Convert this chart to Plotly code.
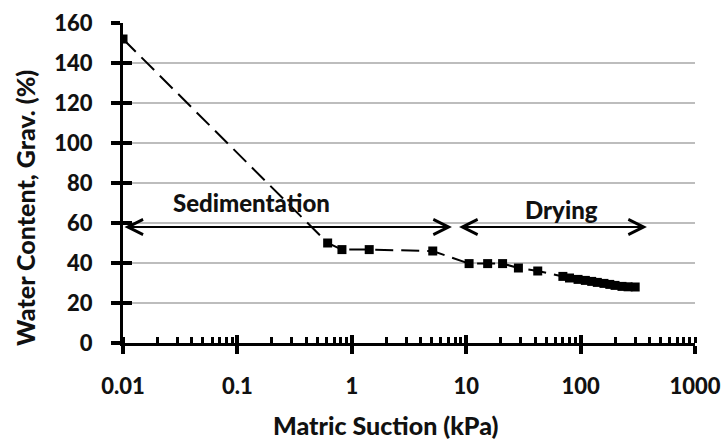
import math
import plotly.graph_objects as go

# Soil-water characteristic: matric suction (kPa) vs gravimetric water content (%)
suction_kpa = [0.01, 0.615, 0.82, 1.42, 5.1, 10.6, 15.4, 20.8, 28.6, 42.2,
               70, 80, 95, 110, 125, 140, 160, 180, 200, 230, 260, 300]
water_content = [152, 50, 46.7, 46.7, 46, 39.7, 39.7, 39.7, 37.5, 36,
                 33.3, 32.5, 31.8, 31.3, 30.8, 30.3, 29.8, 29.3, 28.8, 28.3, 28.1, 28.0]

x_tick_vals = [0.01, 0.1, 1, 10, 100, 1000]
x_tick_text = ["0.01", "0.1", "1", "10", "100", "1000"]
y_tick_vals = [0, 20, 40, 60, 80, 100, 120, 140, 160]
y_tick_text = ["0", "20", "40", "60", "80", "100", "120", "140", "160"]

x_title = "Matric Suction (kPa)"
y_title = "Water Content, Grav. (%)"

# Stage ranges (kPa) and the water-content level of their arrows
sed_range = [0.01, 7.5]
dry_range = [8.4, 380]
stage_level = 58
sed_label = ("Sedimentation", 0.133, 70.5)
dry_label = ("Drying", 67.5, 66.7)

FONT = "Lato"
INK = "#111111"
HEAVY = 900

fig = go.Figure()
fig.add_trace(go.Scatter(
    x=suction_kpa, y=water_content, mode="lines+markers",
    line=dict(color="black", width=2, dash="18px,8px"),
    marker=dict(symbol="square", size=9, color="black"),
    showlegend=False,
))
# empty trace so the overlay axes (inner halves of the crossing ticks) render
fig.add_trace(go.Scatter(x=[], y=[], xaxis="x2", yaxis="y2", showlegend=False,
                         hoverinfo="skip"))

lg = math.log10
x_range = [lg(x_tick_vals[0]), lg(x_tick_vals[-1])]
y_range = [0, 160]

# stage arrows (double headed)
for lo, hi in (sed_range, dry_range):
    fig.add_annotation(
        x=lg(hi), y=stage_level, ax=lg(lo), ay=stage_level,
        xref="x", yref="y", axref="x", ayref="y",
        text="", showarrow=True, arrowside="end+start",
        arrowhead=5, startarrowhead=5, arrowsize=1.5, startarrowsize=1.5,
        arrowwidth=2, arrowcolor="black", standoff=0, startstandoff=0,
    )
for txt, xv, yv in (sed_label, dry_label):
    fig.add_annotation(
        x=lg(xv), y=yv, xref="x", yref="y", text=txt,
        showarrow=False, font=dict(family=FONT, size=24, color=INK, weight=HEAVY),
    )

tick_font = dict(family=FONT, size=22, color=INK, weight=HEAVY)
title_font = dict(family=FONT, size=25, color=INK, weight=HEAVY)

# axis titles, placed relative to the chart area
fig.add_annotation(text=x_title, xref="paper", yref="paper", x=0.46, y=-0.257,
                   xanchor="center", yanchor="middle", showarrow=False,
                   font=title_font)
fig.add_annotation(text=y_title, xref="paper", yref="paper", x=-0.171, y=0.4225,
                   xanchor="center", yanchor="middle", showarrow=False,
                   textangle=-90, font=title_font)

fig.update_layout(
    width=727, height=439,
    margin=dict(l=123, r=32, t=23, b=96, autoexpand=False),
    paper_bgcolor="white", plot_bgcolor="white",
    xaxis=dict(
        type="log", range=x_range, tickvals=x_tick_vals, ticktext=x_tick_text,
        ticks="outside", ticklen=8, tickwidth=4, tickcolor="black",
        showline=True, linecolor="black", linewidth=3,
        showgrid=False, zeroline=False, tickfont=tick_font,
        ticklabelstandoff=14, automargin=False,
        minor=dict(ticks="inside", ticklen=6, tickwidth=3, tickcolor="black",
                   dtick="D1", showgrid=False),
    ),
    xaxis2=dict(
        type="log", range=x_range, overlaying="x", anchor="y", side="bottom",
        tickvals=x_tick_vals, showticklabels=False, ticks="inside",
        ticklen=8, tickwidth=4, tickcolor="black", automargin=False,
        showline=False, showgrid=False, zeroline=False,
    ),
    yaxis=dict(
        range=y_range, tickvals=y_tick_vals, ticktext=y_tick_text,
        ticks="outside", ticklen=9, tickwidth=4, tickcolor="black",
        showline=True, linecolor="black", linewidth=3,
        showgrid=True, gridcolor="#bdbdbd", gridwidth=2, automargin=False,
        zeroline=False, tickfont=tick_font, ticklabelstandoff=14,
    ),
    yaxis2=dict(
        range=y_range, overlaying="y", anchor="x", side="left",
        tickvals=y_tick_vals, showticklabels=False, ticks="inside",
        ticklen=9, tickwidth=4, tickcolor="black", automargin=False,
        showline=False, showgrid=False, zeroline=False,
    ),
)

fig.write_html("out.html")
